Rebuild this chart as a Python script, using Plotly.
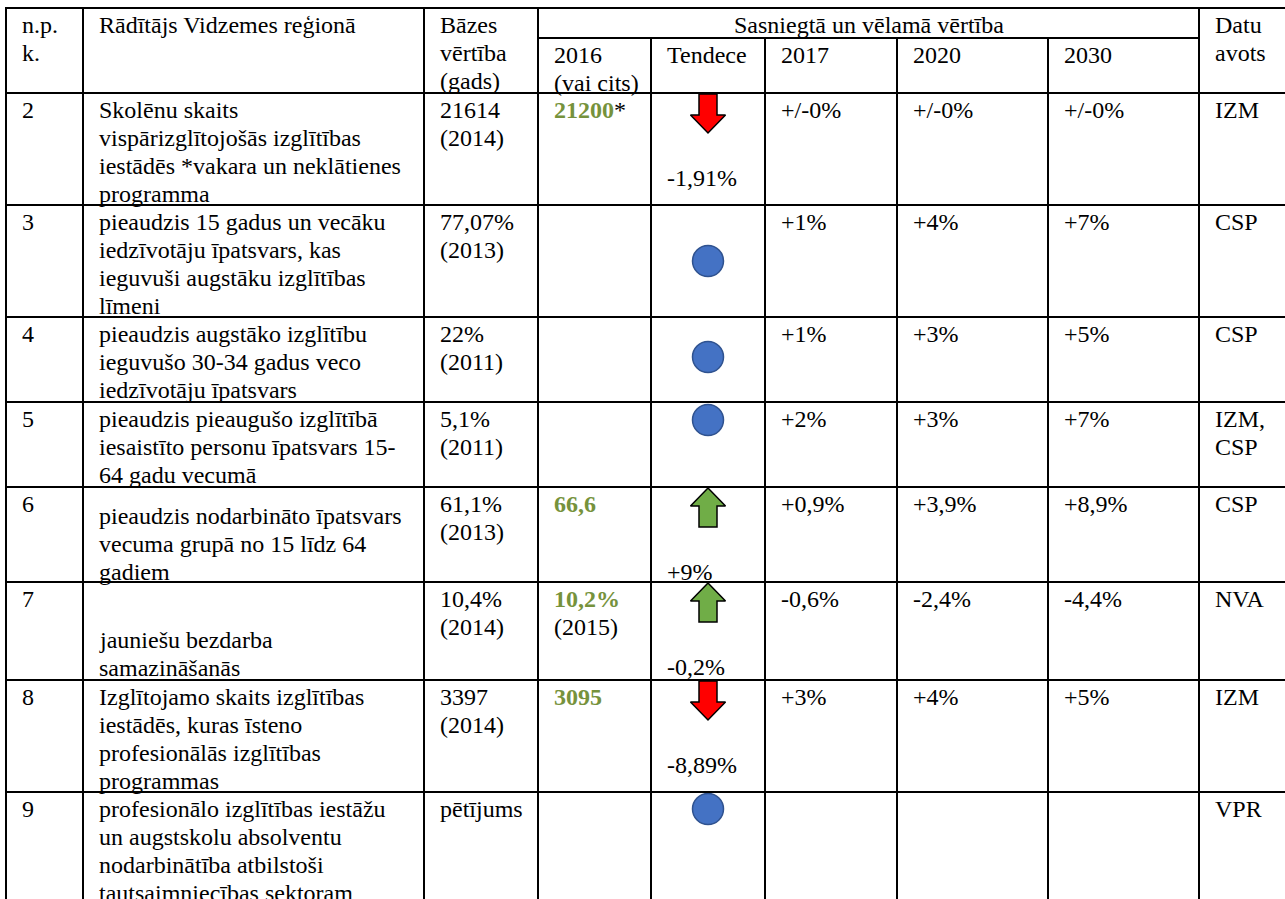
import plotly.graph_objects as go

# ---------------- data ----------------
row_numbers = ["2", "3", "4", "5", "6", "7", "8", "9"]
indicators = [
    ["Skolēnu skaits", "vispārizglītojošās izglītības", "iestādēs *vakara un neklātienes", "programma"],
    ["pieaudzis 15 gadus un vecāku", "iedzīvotāju īpatsvars, kas", "ieguvuši augstāku izglītības", "līmeni"],
    ["pieaudzis augstāko izglītību", "ieguvušo 30-34 gadus veco", "iedzīvotāju īpatsvars"],
    ["pieaudzis pieaugušo izglītībā", "iesaistīto personu īpatsvars 15-", "64 gadu vecumā"],
    ["pieaudzis nodarbināto īpatsvars", "vecuma grupā no 15 līdz 64", "gadiem"],
    ["jauniešu bezdarba", "samazināšanās"],
    ["Izglītojamo skaits izglītības", "iestādēs, kuras īsteno", "profesionālās izglītības", "programmas"],
    ["profesionālo izglītības iestāžu", "un augstskolu absolventu", "nodarbinātība atbilstoši", "tautsaimniecības sektoram"],
]
base_values = ["21614", "77,07%", "22%", "5,1%", "61,1%", "10,4%", "3397", "pētījums"]
base_years = ["(2014)", "(2013)", "(2011)", "(2011)", "(2013)", "(2014)", "(2014)", ""]
achieved_values = ["21200", "", "", "", "66,6", "10,2%", "3095", ""]
achieved_notes = ["*", "", "", "", "", "", "", ""]
achieved_years = ["", "", "", "", "", "(2015)", "", ""]
trends = ["down", "none", "none", "none", "up", "up", "down", "none"]
trend_changes = ["-1,91%", "", "", "", "+9%", "-0,2%", "-8,89%", ""]
targets_2017 = ["+/-0%", "+1%", "+1%", "+2%", "+0,9%", "-0,6%", "+3%", ""]
targets_2020 = ["+/-0%", "+4%", "+3%", "+3%", "+3,9%", "-2,4%", "+4%", ""]
targets_2030 = ["+/-0%", "+7%", "+5%", "+7%", "+8,9%", "-4,4%", "+5%", ""]
sources = [["IZM"], ["CSP"], ["CSP"], ["IZM,", "CSP"], ["CSP"], ["NVA"], ["IZM"], ["VPR"]]

header_npk = ["n.p.", "k."]
header_indicator = ["Rādītājs Vidzemes reģionā"]
header_base = ["Bāzes", "vērtība", "(gads)"]
header_group = "Sasniegtā un vēlamā vērtība"
header_sub = [["2016", "(vai cits)"], ["Tendece"], ["2017"], ["2020"], ["2030"]]
header_source = ["Datu", "avots"]

# ---------------- layout / style ----------------
W, H = 1285, 899
COL_X = [6, 83, 424, 538, 651, 765, 897, 1048, 1199, 1320]
HDR_TOP, HDR_SUB, HDR_BOT = 8, 38, 93
ROW_TOP = [93, 205, 317, 402, 487, 582, 680, 792]
BOTTOM = 960
PAD = 14
LINE_H = 28
FIRST = 16.5
DESC_SHIFT = [0, 0, 0, 0, 12, 41, 0, 0]
CIRCLE_DY = [0, 56, 40, 18, 0, 0, 0, 17]
TREND_LABEL_DY = 85
FONT = "Liberation Serif, Times New Roman, DejaVu Serif, serif"
FS = 24
GREEN_TXT = "#76923C"
LW = 2

fig = go.Figure()
annotations = []
shapes = []


def txt(x, y, s, anchor="left", color="black"):
    annotations.append(dict(x=x, y=y, xref="x", yref="y", text=s, showarrow=False,
                            xanchor=anchor, yanchor="middle",
                            font=dict(family=FONT, size=FS, color=color)))


def lines_at(col, top, items, first=FIRST):
    for i, s in enumerate(items):
        if s:
            txt(COL_X[col] + PAD, top + first + i * LINE_H, s)


def hline(y, x0, x1):
    shapes.append(dict(type="line", xref="x", yref="y", x0=x0, x1=x1, y0=y, y1=y,
                       line=dict(color="black", width=LW)))


def vline(x, y0, y1):
    shapes.append(dict(type="line", xref="x", yref="y", x0=x, x1=x, y0=y0, y1=y1,
                       line=dict(color="black", width=LW)))


# grid
hline(HDR_TOP, COL_X[0] - 1, W + 5)
hline(HDR_SUB, COL_X[3], COL_X[8])
hline(HDR_BOT, COL_X[0] - 1, W + 5)
for t in ROW_TOP[1:]:
    hline(t, COL_X[0] - 1, W + 5)
for i, x in enumerate(COL_X[:-1]):
    vline(x, HDR_SUB if i in (4, 5, 6, 7) else HDR_TOP, BOTTOM)

# header
lines_at(0, HDR_TOP, header_npk)
lines_at(1, HDR_TOP, header_indicator)
lines_at(2, HDR_TOP, header_base)
txt((COL_X[3] + COL_X[8]) / 2, HDR_TOP + FIRST, header_group, anchor="center")
for k, sub in enumerate(header_sub):
    lines_at(3 + k, HDR_SUB, sub)
lines_at(8, HDR_TOP, header_source)

# body
cx_trend = (COL_X[4] + COL_X[5]) / 2
for r in range(len(row_numbers)):
    top = ROW_TOP[r]
    lines_at(0, top, [row_numbers[r]])
    lines_at(1, top, indicators[r], first=FIRST + DESC_SHIFT[r])
    lines_at(2, top, [base_values[r], base_years[r]])
    ach = ""
    if achieved_values[r]:
        ach = f"<b><span style='color:{GREEN_TXT}'>{achieved_values[r]}</span></b>{achieved_notes[r]}"
    lines_at(3, top, [ach, achieved_years[r]])
    if trend_changes[r]:
        txt(COL_X[4] + PAD, top + TREND_LABEL_DY, trend_changes[r])
    lines_at(5, top, [targets_2017[r]])
    lines_at(6, top, [targets_2020[r]])
    lines_at(7, top, [targets_2030[r]])
    lines_at(8, top, sources[r])

    # trend icon
    if trends[r] == "none":
        fig.add_trace(go.Scatter(x=[cx_trend], y=[top + CIRCLE_DY[r]], mode="markers",
                                 marker=dict(size=31, color="#4472C4",
                                             line=dict(color="#2F528F", width=1.5)),
                                 hoverinfo="skip", showlegend=False))
    else:
        hw_head, hw_shaft, head_h, total = 17.5, 9, 18, 39
        y0 = top + 1
        if trends[r] == "up":
            xs = [cx_trend, cx_trend + hw_head, cx_trend + hw_shaft, cx_trend + hw_shaft,
                  cx_trend - hw_shaft, cx_trend - hw_shaft, cx_trend - hw_head, cx_trend]
            ys = [y0, y0 + head_h, y0 + head_h, y0 + total, y0 + total, y0 + head_h, y0 + head_h, y0]
            fill = "#70AD47"
        else:
            xs = [cx_trend - hw_shaft, cx_trend + hw_shaft, cx_trend + hw_shaft, cx_trend + hw_head,
                  cx_trend, cx_trend - hw_head, cx_trend - hw_shaft, cx_trend - hw_shaft]
            ys = [y0, y0, y0 + total - head_h, y0 + total - head_h, y0 + total,
                  y0 + total - head_h, y0 + total - head_h, y0]
            fill = "#FF0000"
        fig.add_trace(go.Scatter(x=xs, y=ys, mode="lines", fill="toself", fillcolor=fill,
                                 line=dict(color="black", width=1.5),
                                 hoverinfo="skip", showlegend=False))

fig.update_layout(
    width=W, height=H, margin=dict(l=0, r=0, t=0, b=0),
    paper_bgcolor="white", plot_bgcolor="white",
    font=dict(family=FONT, size=FS, color="black"),
    xaxis=dict(range=[0, W], visible=False, fixedrange=True),
    yaxis=dict(range=[H, 0], visible=False, fixedrange=True),
    annotations=annotations, shapes=shapes, showlegend=False,
)

fig.write_html("out.html", config={"displayModeBar": False},
               post_script="document.body.style.margin='0';document.body.style.overflow='hidden';")
